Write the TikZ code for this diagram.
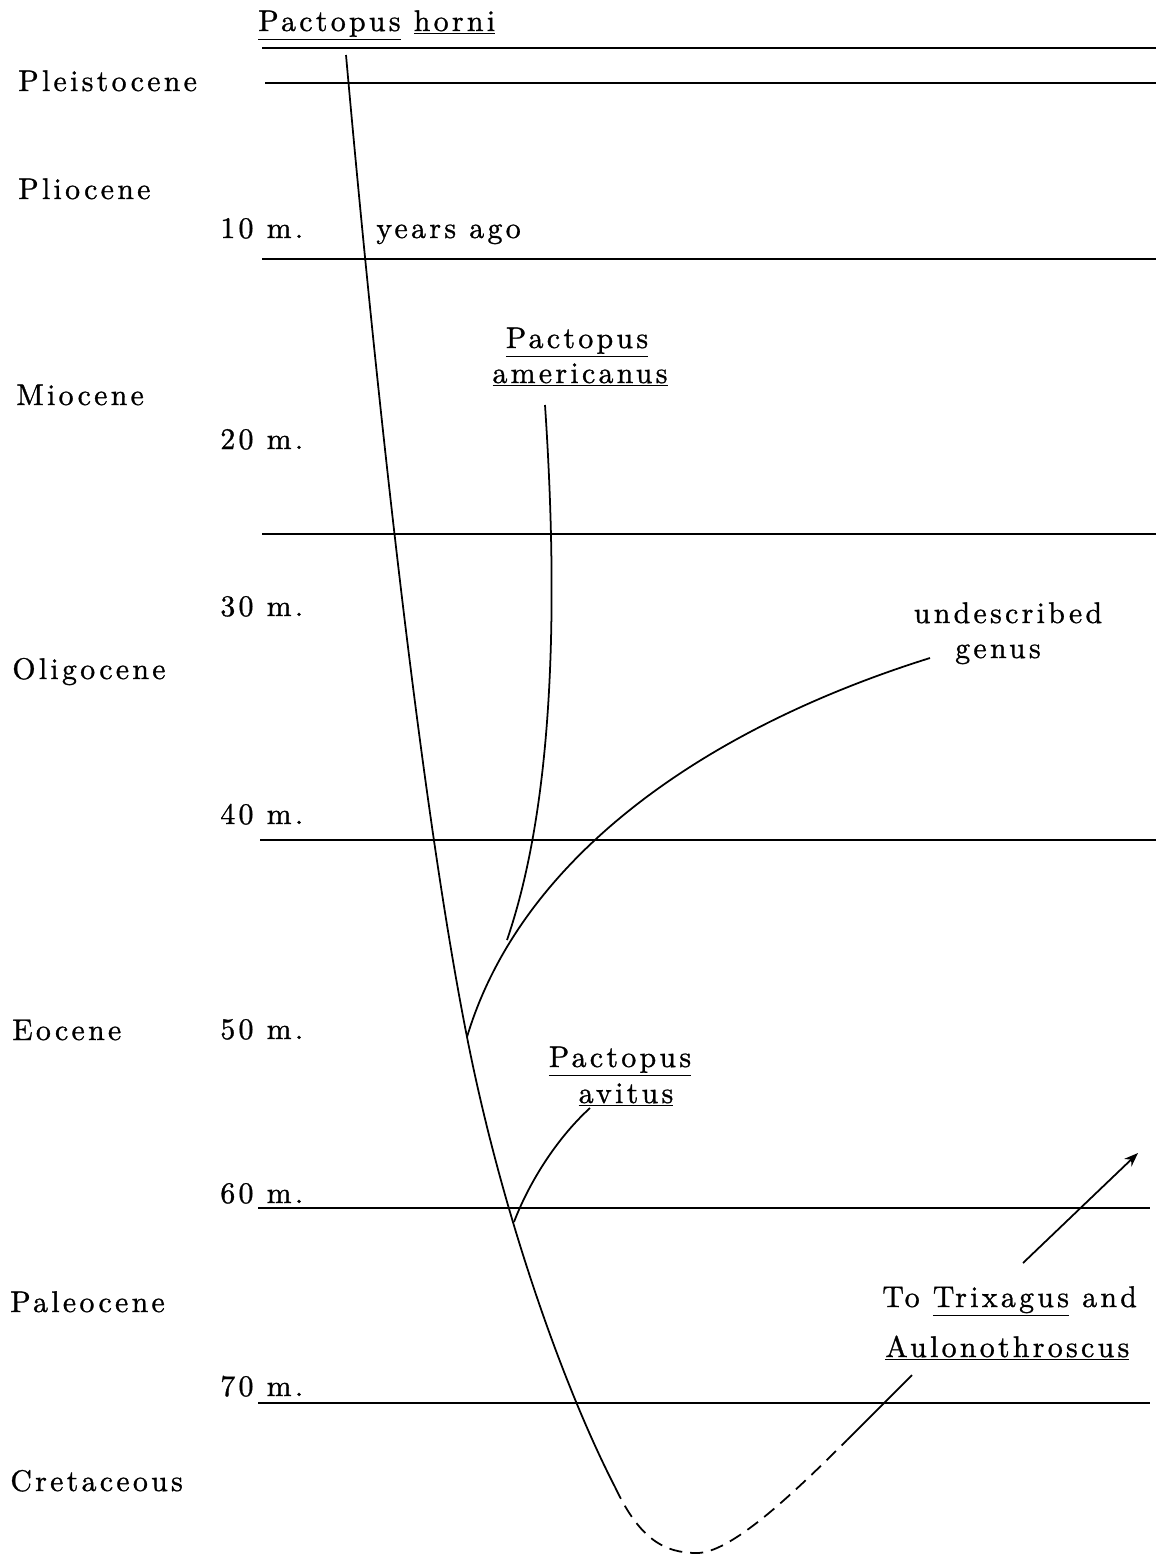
\documentclass[tikz,border=0pt]{standalone}
\usepackage{fontspec}
\newfontfamily\typed{lmroman10-regular.otf}[LetterSpace=11,FakeBold=1]
\usetikzlibrary{arrows.meta}

\begin{document}
\begin{tikzpicture}[x=0.02cm,y=-0.02cm,>={Stealth[length=8pt,width=6pt]},
    txt/.style={font=\typed\fontsize{17}{20}\selectfont,inner sep=0pt},
    epoch/.style={txt,anchor=base west},
    taxon/.style={txt,anchor=base},
    branch/.style={line width=1pt}]
  \useasboundingbox (0,0) rectangle (1156,1559);
  % epoch boundaries
  \foreach \y/\a/\b in {48/262/1156,83/265/1156,259/262/1156,534/262/1156,840/260/1156,1208/258/1150,1403/258/1150}
    \draw[line width=0.9pt] (\a,\y)--(\b,\y);
  \foreach \n/\x/\y in {Pleistocene/18/91,Pliocene/18/199,Miocene/16/405,Oligocene/12/679,Eocene/12/1040,Paleocene/10/1312,Cretaceous/10/1491}
    \node[epoch] (\n) at (\x,\y) {\n};
  \foreach \t/\y in {10/238,20/449,30/616,40/824,50/1039,60/1203,70/1396}
    \node[epoch] (m\t) at (220,\y) {\t\ m.};
  \node[epoch] (ago) at (376,238) {years ago};
  % taxa
  \node[epoch] (horni) at (258,31) {\underline{Pactopus} \underline{horni}};
  \node[taxon] (amA) at (577,348) {\underline{Pactopus}};
  \node[taxon] (amB) at (580,383) {\underline{americanus}};
  \node[taxon] (undA) at (1008,623) {undescribed};
  \node[taxon] (undB) at (998,658) {genus};
  \node[taxon] (avA) at (620,1067) {\underline{Pactopus}};
  \node[taxon] (avB) at (626,1103) {\underline{avitus}};
  \node[epoch] (trA) at (882,1307) {To \underline{Trixagus} and};
  \node[epoch] (trB) at (885,1357) {\underline{Aulonothroscus}};
  % branch points
  \coordinate (hTop) at (346,55);
  \coordinate (eoFork) at (467,1037);
  \coordinate (paFork) at (514,1222);
  \coordinate (crEnd) at (615,1487);
  \coordinate (crLow) at (697,1553);
  \coordinate (trDash) at (847,1440);
  \coordinate (trTop) at (912,1375);
  \coordinate (amTop) at (545,405);
  \coordinate (amJoin) at (507,940);
  \coordinate (unTop) at (930,658);
  \coordinate (avTop) at (590,1108);
  \coordinate (arA) at (1023,1263);
  \coordinate (arB) at (1138,1153);
  \draw[branch] (hTop) .. controls (375,380) and (420,800) .. (eoFork)
    .. controls (500,1205) and (560,1380) .. (crEnd);
  \draw[branch] (amTop) .. controls (558,600) and (555,800) .. (amJoin);
  \draw[branch] (unTop) .. controls (700,730) and (520,860) .. (eoFork);
  \draw[branch] (avTop) .. controls (555,1140) and (528,1185) .. (paFork);
  \draw[branch,dash pattern=on 7.5pt off 4.5pt] (crEnd) .. controls (640,1540) and (665,1553) .. (crLow) .. controls (730,1553) and (790,1497) .. (trDash);
  \draw[branch] (trDash) -- (trTop);
  \draw[branch,->] (arA) -- (arB);
\end{tikzpicture}
\end{document}
